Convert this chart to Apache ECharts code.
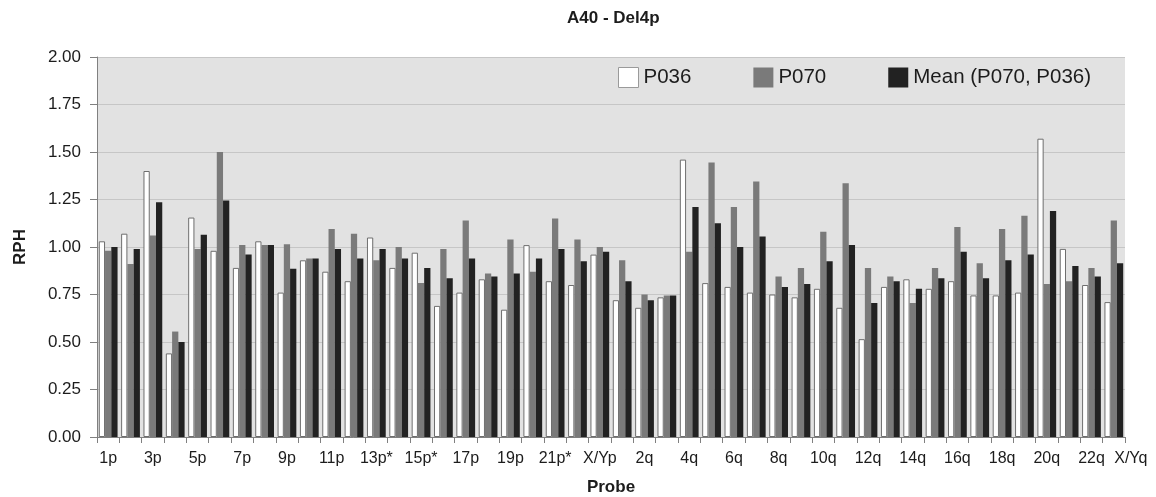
<!DOCTYPE html>
<html>
<head>
<meta charset="utf-8">
<script src="https://cdn.jsdelivr.net/npm/echarts@6/dist/echarts.min.js"></script>
<style>
  html, body { margin: 0; padding: 0; background: #fff; }
  #main { width: 1156px; height: 497px; }
</style>
</head>
<body>
<div id="main"></div>
<script>
// probes, 46 categories
const probes = [
  '1p', '2p', '3p', '4p', '5p', '6p', '7p', '8p', '9p', '10p', '11p', '12p',
  '13p*', '14p*', '15p*', '16p', '17p', '18p', '19p', '20p', '21p*', '22p*', 'X/Yp',
  '1q', '2q', '3q', '4q', '5q', '6q', '7q', '8q', '9q', '10q', '11q', '12q',
  '13q', '14q', '15q', '16q', '17q', '18q', '19q', '20q', '21q', '22q', 'X/Yq'
]

const p036 = [
  1.03, 1.07, 1.40, 0.44, 1.155, 0.98, 0.89, 1.03, 0.76, 0.93, 0.87, 0.82,
  1.05, 0.89, 0.97, 0.69, 0.76, 0.83, 0.67, 1.01, 0.82, 0.80, 0.96,
  0.72, 0.68, 0.735, 1.46, 0.81, 0.79, 0.76, 0.75, 0.735, 0.78, 0.68, 0.515,
  0.79, 0.83, 0.78, 0.82, 0.745, 0.745, 0.76, 1.57, 0.99, 0.80, 0.71
]

const p070 = [
  0.98, 0.91, 1.06, 0.555, 0.99, 1.50, 1.01, 1.01, 1.015, 0.94, 1.095, 1.07,
  0.93, 1.00, 0.81, 0.99, 1.14, 0.86, 1.04, 0.87, 1.15, 1.04, 1.00,
  0.93, 0.75, 0.745, 0.975, 1.445, 1.21, 1.345, 0.845, 0.89, 1.08, 1.335, 0.89,
  0.845, 0.705, 0.89, 1.105, 0.915, 1.095, 1.165, 0.805, 0.82, 0.89, 1.14
]

const mean = [
  1.00, 0.99, 1.235, 0.50, 1.065, 1.245, 0.96, 1.01, 0.885, 0.94, 0.99, 0.94,
  0.99, 0.94, 0.89, 0.835, 0.94, 0.845, 0.86, 0.94, 0.99, 0.925, 0.975,
  0.82, 0.72, 0.745, 1.21, 1.125, 1.00, 1.055, 0.79, 0.805, 0.925, 1.01, 0.705,
  0.82, 0.78, 0.835, 0.975, 0.835, 0.93, 0.96, 1.19, 0.90, 0.845, 0.915
]

const yTicks = ['0.00', '0.25', '0.50', '0.75', '1.00', '1.25', '1.50', '1.75', '2.00']

const font = '"Liberation Sans", Arial, sans-serif'
const textColor = '#1c1c1c'

const myChart = echarts.init(document.getElementById('main'))

const option = {
  animation: false,
  backgroundColor: '#ffffff',
  textStyle: { fontFamily: font },
  title: {
    text: 'A40 - Del4p',
    left: 562,
    top: 5,
    textStyle: { fontFamily: font, fontSize: 17, fontWeight: 'bold', color: textColor }
  },
  legend: {
    left: 613,
    top: 62,
    itemWidth: 20,
    itemHeight: 20,
    itemGap: 62,
    icon: 'rect',
    textStyle: { fontFamily: font, fontSize: 20.5, color: textColor },
    data: [
      { name: 'P036', itemStyle: { color: '#ffffff', borderColor: '#9a9a9a', borderWidth: 1 } },
      { name: 'P070', itemStyle: { color: '#7a7a7a', borderWidth: 0 } },
      { name: 'Mean (P070, P036)', itemStyle: { color: '#222222', borderWidth: 0 } }
    ]
  },
  grid: {
    left: 97,
    right: 31,
    top: 57,
    bottom: 60,
    outerBoundsMode: 'none',
    show: true,
    backgroundColor: '#e2e2e2',
    borderWidth: 0
  },
  xAxis: {
    type: 'category',
    data: probes,
    name: 'Probe',
    nameLocation: 'middle',
    nameGap: 42,
    nameTextStyle: { fontFamily: font, fontSize: 17, fontWeight: 'bold', color: textColor },
    axisLine: { lineStyle: { color: '#808080', width: 1 } },
    axisTick: { show: true, interval: 0, length: 6, lineStyle: { color: '#808080' } },
    axisLabel: {
      interval: 0,
      margin: 14,
      fontFamily: font,
      fontSize: 16,
      color: textColor,
      formatter: (val, idx) => {
        if (idx === probes.length - 1) return '{r|' + val + '}'
        return idx % 2 === 0 ? val : ''
      },
      rich: {
        r: { fontFamily: font, fontSize: 16, color: textColor, padding: [0, 0, 0, 34] }
      }
    }
  },
  yAxis: {
    type: 'value',
    min: 0,
    max: 2,
    interval: 0.25,
    name: 'RPH',
    nameLocation: 'middle',
    nameRotate: 90,
    nameGap: 68,
    nameTextStyle: { fontFamily: font, fontSize: 17, fontWeight: 'bold', color: textColor },
    axisLine: { show: true, lineStyle: { color: '#808080', width: 1 } },
    axisTick: { show: true, length: 7, lineStyle: { color: '#808080' } },
    axisLabel: {
      margin: 16,
      fontFamily: font,
      fontSize: 17,
      color: textColor,
      formatter: (v) => yTicks[Math.round(v / 0.25)]
    },
    splitLine: { show: true, lineStyle: { color: '#c6c6c6', width: 1 } }
  },
  series: [
    {
      name: 'P036',
      type: 'bar',
      data: p036,
      barGap: '0%',
      barCategoryGap: '16%',
      itemStyle: { color: '#ffffff', borderColor: '#6e6e6e', borderWidth: 1 }
    },
    {
      name: 'P070',
      type: 'bar',
      data: p070,
      itemStyle: { color: '#7a7a7a' }
    },
    {
      name: 'Mean (P070, P036)',
      type: 'bar',
      data: mean,
      itemStyle: { color: '#222222' }
    }
  ]
}

option && myChart.setOption(option)
</script>
</body>
</html>
